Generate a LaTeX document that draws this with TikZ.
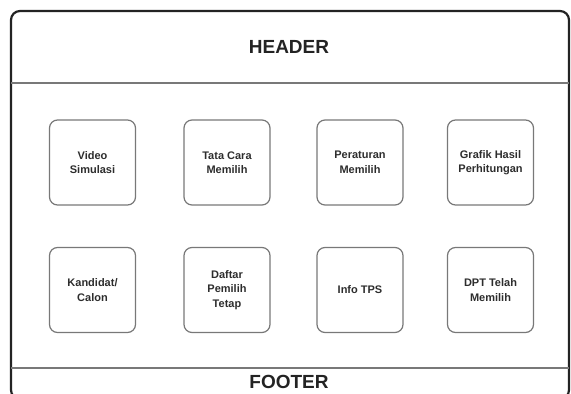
\documentclass[tikz,border=0pt]{standalone}
\usepackage{fontspec}
\setmainfont{Liberation Sans}
\usepackage{tikz}
\usetikzlibrary{shapes,calc,backgrounds}
\definecolor{mygray}{RGB}{120,120,120}
\definecolor{myframe}{RGB}{35,35,35}
\definecolor{mytext}{RGB}{45,45,45}

\begin{document}
\begin{tikzpicture}[x=1pt,y=-1pt]

\tikzstyle{frame} = [draw=myframe, line width=2.2pt, rounded corners=9pt]
\tikzstyle{divider} = [draw=mygray, line width=1.6pt]
\tikzstyle{menu} = [draw=mygray, line width=1.2pt, rounded corners=8pt,
    minimum width=86pt, minimum height=85pt, inner sep=0pt,
    font=\bfseries\fontsize{11}{14.5}\selectfont, text=mytext, align=center]
\tikzstyle{title} = [font=\bfseries\fontsize{19}{22}\selectfont, text=myframe]

\useasboundingbox (0,0) rectangle (571,394);

% =========================
% page frame, header and footer
% =========================
\draw[frame] (11,11) rectangle (569,399);

\coordinate (hl) at (11,83);
\coordinate (hr) at (569,83);
\draw[divider] (hl) -- (hr);

\coordinate (fl) at (11,368);
\coordinate (fr) at (569,368);
\draw[divider] (fl) -- (fr);

\node[title] (header) at (289,47) {HEADER};
\node[title] (footer) at (289,382) {FOOTER};

% =========================
% menu - first row
% =========================
\node[menu] (video) at (92.5,162.5) {Video\\Simulasi};
\node[menu] (tatacara) at (227,162.5) {Tata Cara\\Memilih};
\node[menu] (peraturan) at (360,162.5) {Peraturan\\Memilih};
\node[menu] (grafik) at (490.5,162.5) {Grafik Hasil\\Perhitungan};

% =========================
% menu - second row
% =========================
\node[menu] (kandidat) at (92.5,290) {Kandidat/\\Calon};
\node[menu] (dpt) at (227,290) {Daftar\\Pemilih\\Tetap};
\node[menu] (tps) at (360,290) {Info TPS};
\node[menu] (dptmemilih) at (490.5,290) {DPT Telah\\Memilih};

\end{tikzpicture}
\end{document}
